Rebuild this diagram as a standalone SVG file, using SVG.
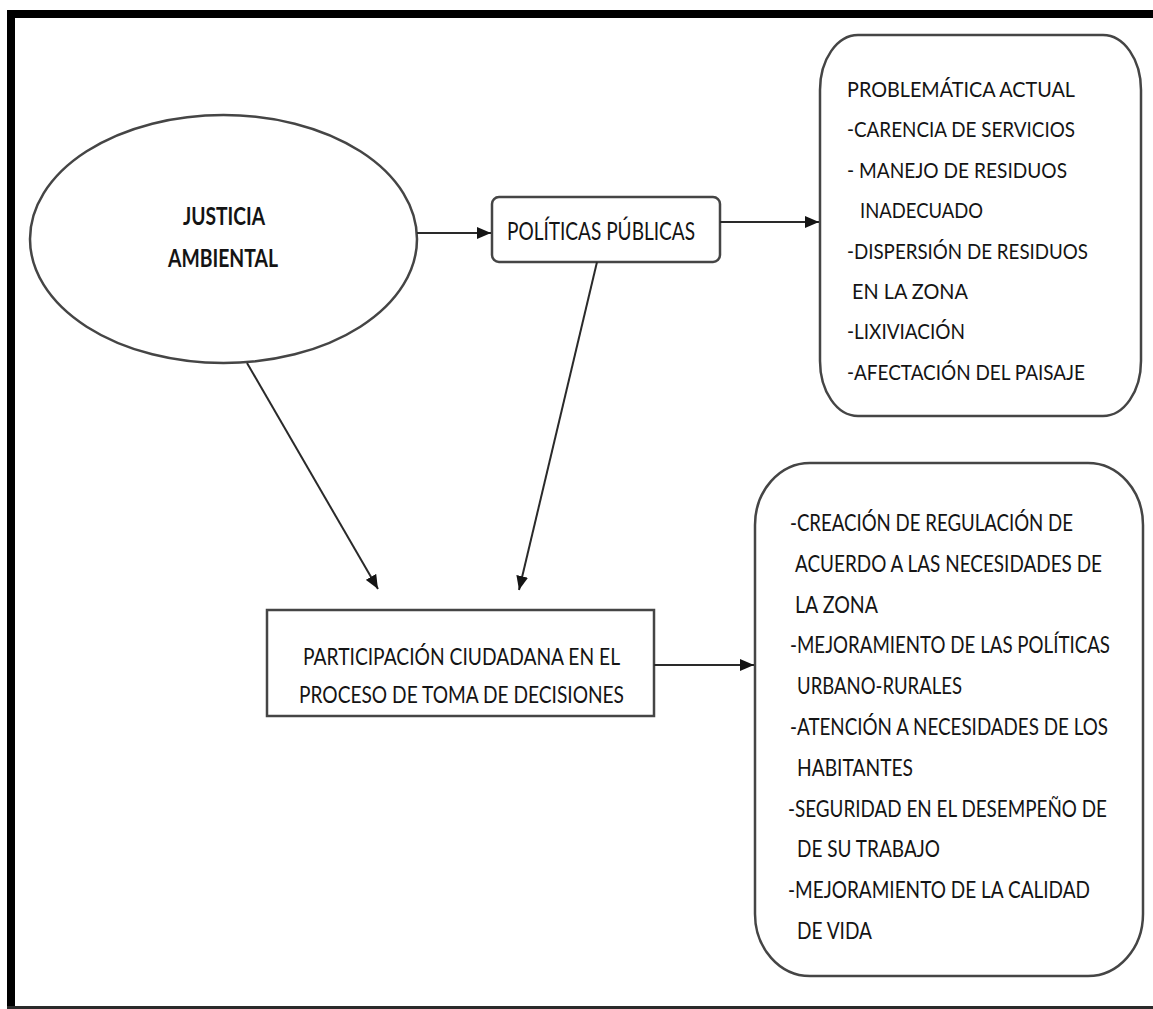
<svg xmlns="http://www.w3.org/2000/svg" width="1153" height="1009" viewBox="0 0 1153 1009">
<style>
  .t { font-family: Lato, "Liberation Sans", sans-serif; fill: #141414; }
  .s { font-size: 22px; }
  .m { font-size: 24px; }
  .b { font-size: 25px; font-weight: bold; }
  .shape { fill: #ffffff; stroke: #454545; stroke-width: 2.5; }
  .conn { stroke: #2a2a2a; stroke-width: 2; fill: none; }
</style>
<defs>
  <marker id="arr" markerUnits="userSpaceOnUse" markerWidth="15" markerHeight="12" refX="14" refY="6" orient="auto">
    <path d="M0,0 L14,6 L0,12 z" fill="#141414"/>
  </marker>
</defs>
<rect x="0" y="0" width="1153" height="1009" fill="#ffffff"/>
<!-- frame -->
<rect x="7" y="10" width="1146" height="8" fill="#000000"/>
<rect x="7" y="10" width="8" height="999" fill="#000000"/>
<rect x="7" y="1006" width="1146" height="3" fill="#2a2a2a"/>

<g id="justicia">
  <ellipse class="shape" cx="223.5" cy="239" rx="193.5" ry="124" stroke-width="2"/>
  <text class="t b" x="183" y="225" textLength="82" lengthAdjust="spacingAndGlyphs">JUSTICIA</text>
  <text class="t b" x="168" y="267" textLength="110" lengthAdjust="spacingAndGlyphs">AMBIENTAL</text>
</g>

<g id="politicas">
  <rect class="shape" x="492" y="197" width="228" height="65" rx="7" ry="7" stroke-width="3"/>
  <text class="t" font-size="25" x="507" y="240" textLength="188" lengthAdjust="spacingAndGlyphs">POLÍTICAS PÚBLICAS</text>
</g>

<g id="problematica">
  <rect class="shape" x="820" y="35" width="321" height="381" rx="38" ry="55"/>
  <text class="t s" x="847" y="97" textLength="228" lengthAdjust="spacingAndGlyphs">PROBLEMÁTICA ACTUAL</text>
  <text class="t s" x="847" y="137" textLength="228" lengthAdjust="spacingAndGlyphs">-CARENCIA DE SERVICIOS</text>
  <text class="t s" x="847" y="178" textLength="220" lengthAdjust="spacingAndGlyphs">- MANEJO DE RESIDUOS</text>
  <text class="t s" x="860" y="218" textLength="123" lengthAdjust="spacingAndGlyphs">INADECUADO</text>
  <text class="t s" x="847" y="259" textLength="241" lengthAdjust="spacingAndGlyphs">-DISPERSIÓN DE RESIDUOS</text>
  <text class="t s" x="852" y="299" textLength="116" lengthAdjust="spacingAndGlyphs">EN LA ZONA</text>
  <text class="t s" x="847" y="339" textLength="118" lengthAdjust="spacingAndGlyphs">-LIXIVIACIÓN</text>
  <text class="t s" x="847" y="380" textLength="238" lengthAdjust="spacingAndGlyphs">-AFECTACIÓN DEL PAISAJE</text>
</g>

<g id="participacion">
  <rect class="shape" x="267" y="610" width="387" height="106"/>
  <text class="t" font-size="24" x="303" y="665" textLength="317" lengthAdjust="spacingAndGlyphs">PARTICIPACIÓN CIUDADANA EN EL</text>
  <text class="t" font-size="24" x="299" y="703" textLength="325" lengthAdjust="spacingAndGlyphs">PROCESO DE TOMA DE DECISIONES</text>
</g>

<g id="resultados">
  <rect class="shape" x="755" y="463" width="388" height="513" rx="55" ry="62"/>
  <text class="t m" x="790" y="531" textLength="283" lengthAdjust="spacingAndGlyphs">-CREACIÓN DE REGULACIÓN DE</text>
  <text class="t m" x="795" y="572" textLength="307" lengthAdjust="spacingAndGlyphs">ACUERDO A LAS NECESIDADES DE</text>
  <text class="t m" x="795" y="613" textLength="83" lengthAdjust="spacingAndGlyphs">LA ZONA</text>
  <text class="t m" x="790" y="653" textLength="320" lengthAdjust="spacingAndGlyphs">-MEJORAMIENTO DE LAS POLÍTICAS</text>
  <text class="t m" x="797" y="694" textLength="165" lengthAdjust="spacingAndGlyphs">URBANO-RURALES</text>
  <text class="t m" x="790" y="735" textLength="318" lengthAdjust="spacingAndGlyphs">-ATENCIÓN A NECESIDADES DE LOS</text>
  <text class="t m" x="797" y="776" textLength="116" lengthAdjust="spacingAndGlyphs">HABITANTES</text>
  <text class="t m" x="788" y="817" textLength="319" lengthAdjust="spacingAndGlyphs">-SEGURIDAD EN EL DESEMPEÑO DE</text>
  <text class="t m" x="797" y="857" textLength="143" lengthAdjust="spacingAndGlyphs">DE SU TRABAJO</text>
  <text class="t m" x="788" y="898" textLength="302" lengthAdjust="spacingAndGlyphs">-MEJORAMIENTO DE LA CALIDAD</text>
  <text class="t m" x="797" y="939" textLength="75" lengthAdjust="spacingAndGlyphs">DE VIDA</text>
</g>

<g id="connectors">
  <line class="conn" x1="417" y1="233" x2="491" y2="233" marker-end="url(#arr)"/>
  <line class="conn" x1="720" y1="222" x2="819" y2="222" stroke-width="3" marker-end="url(#arr)"/>
  <line class="conn" x1="247" y1="363" x2="378" y2="589" marker-end="url(#arr)"/>
  <line class="conn" x1="597" y1="262" x2="519" y2="590" marker-end="url(#arr)"/>
  <line class="conn" x1="654" y1="665" x2="754" y2="665" stroke-width="2.5" marker-end="url(#arr)"/>
</g>
</svg>
